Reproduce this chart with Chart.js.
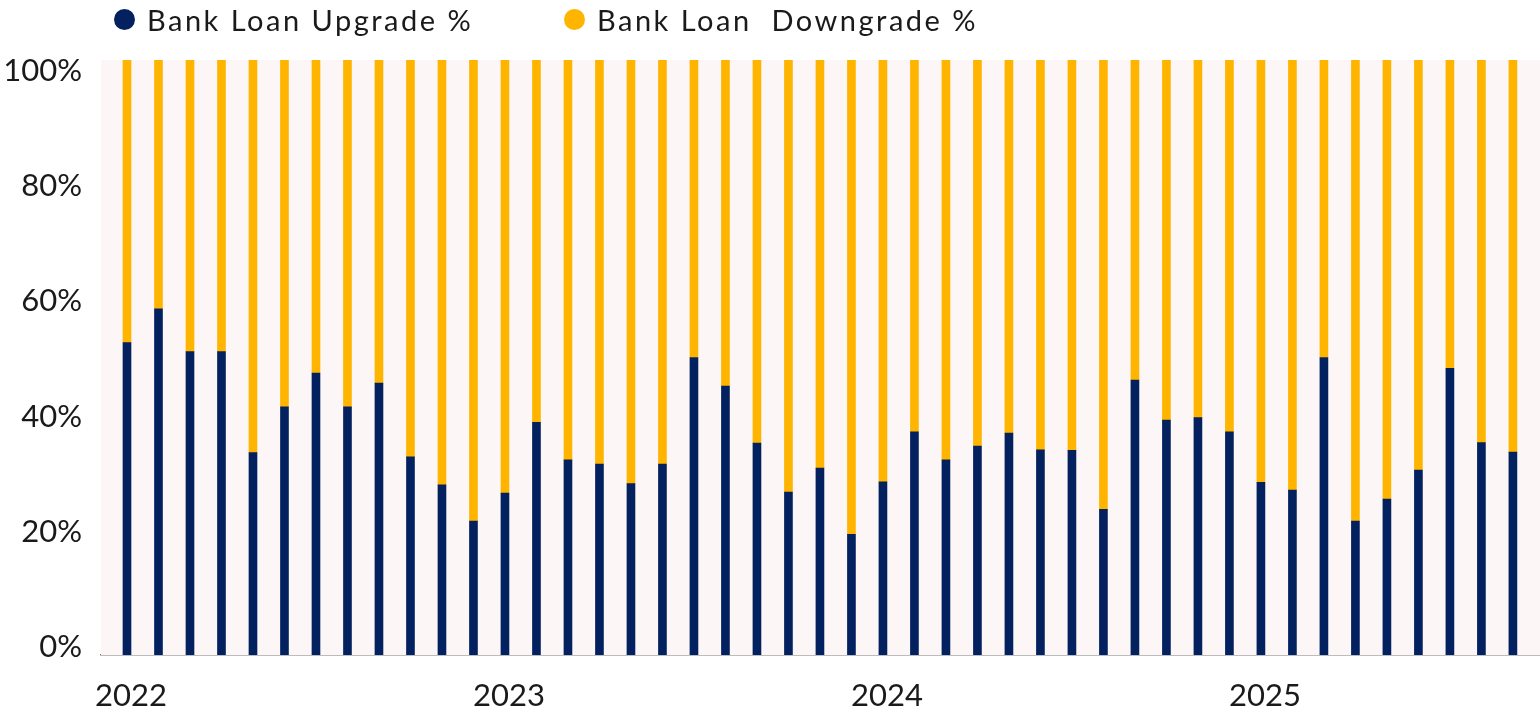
<!DOCTYPE html>
<html>
<head>
<meta charset="utf-8">
<script src="https://cdn.jsdelivr.net/npm/chart.js@4"></script>
<style>
  html, body { margin: 0; padding: 0; background: #fff; }
  #wrap { position: relative; width: 1540px; height: 714px; }
  #myChart { position: absolute; left: 0; top: 0; }
  .legend-item {
    position: absolute; top: 0; height: 38px;
    display: flex; align-items: center;
    font-family: Lato, sans-serif; font-size: 29px; color: #1a1a1a;
    letter-spacing: 2.5px;
    white-space: pre;
  }
  .legend-item .dot { width: 21px; height: 21px; border-radius: 50%; margin-right: 12px; }
</style>
</head>
<body>
<div id="wrap">
  <canvas id="myChart" width="1540" height="714"></canvas>
  <div class="legend-item" style="left:114px"><span class="dot" style="background:#03215F"></span>Bank Loan Upgrade %</div>
  <div class="legend-item" style="left:564px"><span class="dot" style="background:#FFB400"></span>Bank Loan  Downgrade %</div>
</div>
<script>
// monthly, Jan 2022 - Sep 2025
let months = [
  "Jan 2022", "Feb 2022", "Mar 2022", "Apr 2022", "May 2022", "Jun 2022", "Jul 2022", "Aug 2022", "Sep 2022", "Oct 2022", "Nov 2022", "Dec 2022",
  "Jan 2023", "Feb 2023", "Mar 2023", "Apr 2023", "May 2023", "Jun 2023", "Jul 2023", "Aug 2023", "Sep 2023", "Oct 2023", "Nov 2023", "Dec 2023",
  "Jan 2024", "Feb 2024", "Mar 2024", "Apr 2024", "May 2024", "Jun 2024", "Jul 2024", "Aug 2024", "Sep 2024", "Oct 2024", "Nov 2024", "Dec 2024",
  "Jan 2025", "Feb 2025", "Mar 2025", "Apr 2025", "May 2025", "Jun 2025", "Jul 2025", "Aug 2025", "Sep 2025"
];
let upgradePct = [
  52.5, 58.2, 51.0, 51.0, 34.0, 41.7, 47.4, 41.7, 45.7, 33.3, 28.6, 22.5,
  27.2, 39.1, 32.8, 32.1, 28.8, 32.1, 50.0, 45.2, 35.6, 27.4, 31.4, 20.3,
  29.1, 37.5, 32.8, 35.1, 37.3, 34.5, 34.4, 24.5, 46.2, 39.5, 39.9, 37.5,
  29.0, 27.7, 50.0, 22.5, 26.2, 31.1, 48.2, 35.7, 34.1
];
let downgradePct = [
  47.5, 41.8, 49.0, 49.0, 66.0, 58.3, 52.6, 58.3, 54.3, 66.7, 71.4, 77.5,
  72.8, 60.9, 67.2, 67.9, 71.2, 67.9, 50.0, 54.8, 64.4, 72.6, 68.6, 79.7,
  70.9, 62.5, 67.2, 64.9, 62.7, 65.5, 65.6, 75.5, 53.8, 60.5, 60.1, 62.5,
  71.0, 72.3, 50.0, 77.5, 73.8, 68.9, 51.8, 64.3, 65.9
];
let yearTicks = [0, 12, 24, 36];
let yearLabels = ["2022", "2023", "2024", "2025"];
let pctTicks = [0, 20, 40, 60, 80, 100];

let navy = "#03215F";
let gold = "#FFB400";
let textColor = "#1a1a1a";

Chart.defaults.font.family = "Lato, sans-serif";
Chart.defaults.color = textColor;

// light plot background
let plotBg = {
  id: "plotBg",
  beforeDatasetsDraw(chart) {
    let a = chart.chartArea;
    chart.ctx.save();
    chart.ctx.fillStyle = "#FCF7F6";
    chart.ctx.fillRect(a.left, a.top, a.right - a.left, a.bottom - a.top);
    chart.ctx.restore();
  }
};

function toPoints(arr) {
  return arr.map((v, i) => ({ x: i, y: v, month: months[i] }));
}

let chart = new Chart(document.getElementById("myChart"), {
  type: "bar",
  data: {
    datasets: [
      { label: "Bank Loan Upgrade %", data: toPoints(upgradePct), backgroundColor: navy, barThickness: 8, grouped: false },
      { label: "Bank Loan  Downgrade %", data: toPoints(downgradePct), backgroundColor: gold, barThickness: 8, grouped: false }
    ]
  },
  options: {
    responsive: false,
    animation: false,
    layout: { padding: { top: 60, right: 0, left: 0, bottom: 0 } },
    plugins: {
      legend: { display: false },
      tooltip: { enabled: false }
    },
    scales: {
      x: {
        type: "linear",
        min: -0.825,
        max: 44.86,
        offset: false,
        bounds: "data",
        stacked: true,
        grid: { display: false, drawTicks: false, offset: false },
        border: { display: true, color: "#7a7a7a", width: 1.5 },
        afterBuildTicks: (axis) => { axis.ticks = yearTicks.map(v => ({ value: v })); },
        afterFit: (axis) => { axis.height = 59; },
        ticks: {
          padding: 22,
          labelOffset: 4,
          font: { size: 31 },
          color: textColor,
          maxRotation: 0,
          autoSkip: false,
          callback: (v) => yearLabels[yearTicks.indexOf(v)]
        }
      },
      y: {
        display: false,
        stacked: true,
        min: 0,
        max: 100
      },
      yl: {
        type: "linear",
        position: "left",
        min: -1.39,
        max: 101.9,
        grid: { display: false, drawTicks: false },
        border: { display: false },
        afterBuildTicks: (axis) => { axis.ticks = pctTicks.map(v => ({ value: v })); },
        afterFit: (axis) => { axis.width = 101; },
        ticks: {
          padding: 19,
          font: { size: 31 },
          color: textColor,
          callback: (v) => v + "%"
        }
      }
    }
  },
  plugins: [plotBg]
});
</script>
</body>
</html>
